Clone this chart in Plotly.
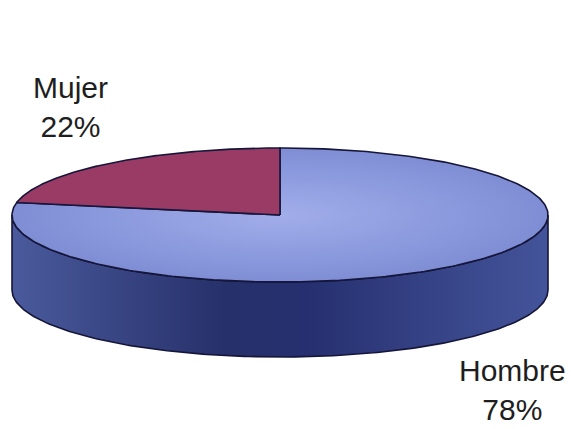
import numpy as np
import plotly.graph_objects as go

# Share of respondents by sex
labels = ["Hombre", "Mujer"]
values = [78, 22]
top_colors = ["#8593d8", "#9a3b66"]

W, H = 571, 429
cx, cy = 280, 215      # centre of the top face
a, b = 268, 67         # ellipse semi-axes
depth = 75             # thickness of the disc
edge = "#15163a"


def pt(t, dy=0.0):
    return cx + a * np.cos(t), cy - b * np.sin(t) + dy


# slice angles: clockwise from 12 o'clock
total = float(sum(values))
bounds = []
start = np.pi / 2
for v in values:
    end = start - 2 * np.pi * v / total
    bounds.append((start, end))
    start = end

fig = go.Figure()

# visible sides (front half of the ellipse, angles in [pi, 2pi])
for (s, e) in bounds:
    lo, hi = min(s, e), max(s, e)
    for k in (-1, 0, 1):
        l2, h2 = lo + 2 * np.pi * k, hi + 2 * np.pi * k
        ol, oh = max(l2, np.pi), min(h2, 2 * np.pi)
        if oh > ol:
            t = np.linspace(ol, oh, 200)
            xs_t, ys_t = pt(t)
            xs_b, ys_b = pt(t[::-1], depth)
            xs = np.concatenate([xs_t, xs_b, xs_t[:1]])
            ys = np.concatenate([ys_t, ys_b, ys_t[:1]])
            fig.add_trace(go.Scatter(
                x=xs, y=ys, mode="lines", fill="toself",
                line=dict(color=edge, width=1.6),
                fillgradient=dict(
                    type="horizontal",
                    colorscale=[[0, "#4a5a9c"], [0.4, "#26306a"],
                                [0.55, "#263070"], [1, "#44549a"]]),
                hoverinfo="skip", showlegend=False))

# top faces
for (s, e), col, lab in zip(bounds, top_colors, labels):
    t = np.linspace(s, e, 300)
    xs, ys = pt(t)
    xs = np.concatenate([[cx], xs, [cx]])
    ys = np.concatenate([[cy], ys, [cy]])
    kw = {}
    if lab == "Hombre":
        kw["fillgradient"] = dict(
            type="radial",
            colorscale=[[0, "#a2aeea"], [0.6, "#8c9ade"], [1, "#7f8dd4"]])
    else:
        kw["fillcolor"] = col
    fig.add_trace(go.Scatter(
        x=xs, y=ys, mode="lines", fill="toself",
        line=dict(color=edge, width=1.6),
        hoverinfo="skip", showlegend=False, **kw))

# labels
label_pos = {"Mujer": (70, 107), "Hombre": (512, 390)}
for lab, v in zip(labels, values):
    x, y = label_pos[lab]
    fig.add_annotation(x=x, y=y, text=f"{lab}<br>{v}%", showarrow=False,
                       font=dict(family="Liberation Sans, Arial", size=30,
                                 color="#1e1e1e"),
                       borderpad=0, align="center",
                       xanchor="center", yanchor="middle")

fig.update_layout(
    width=W, height=H, margin=dict(l=0, r=0, t=0, b=0),
    paper_bgcolor="white", plot_bgcolor="white",
    xaxis=dict(range=[0, W], visible=False, fixedrange=True),
    yaxis=dict(range=[H, 0], visible=False, fixedrange=True),
)

fig.write_html("out.html")
